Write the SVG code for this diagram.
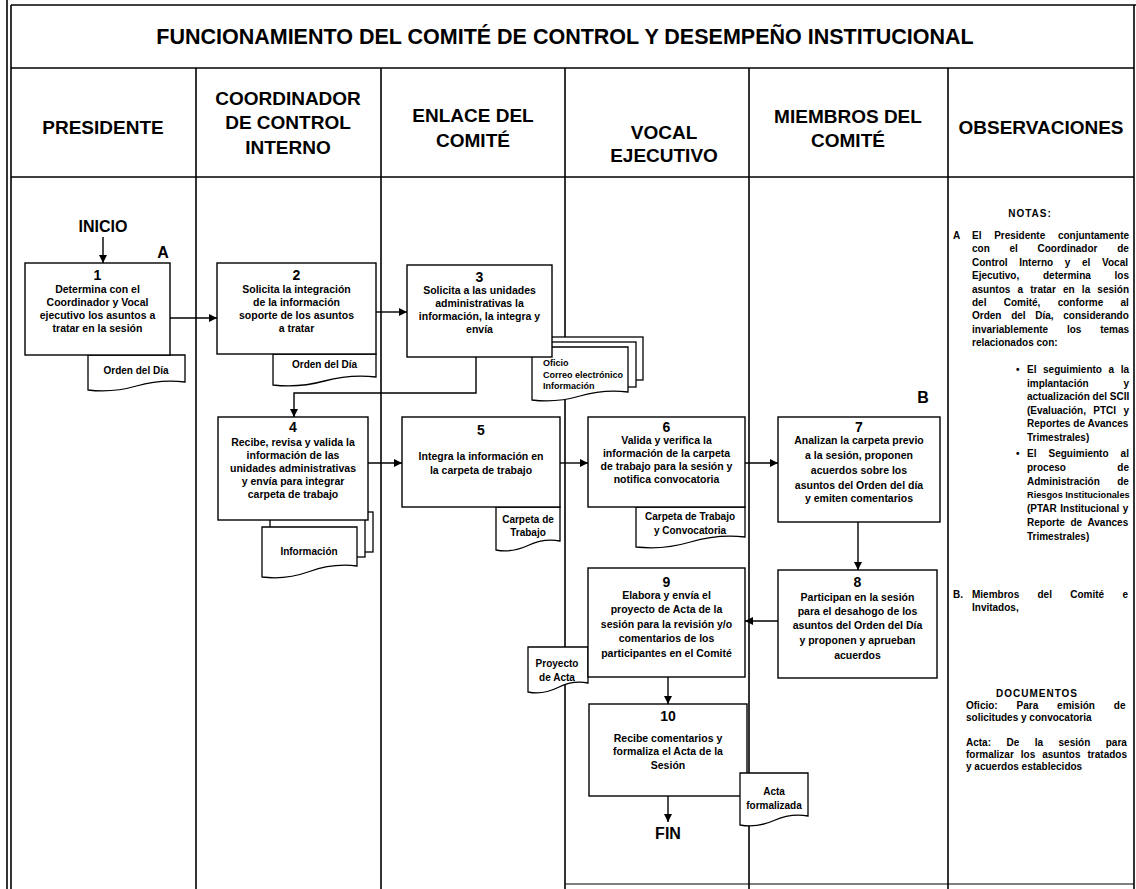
<svg xmlns="http://www.w3.org/2000/svg" width="1136" height="889" viewBox="0 0 1136 889">
<defs>
<marker id="ah" viewBox="0 0 10 10" refX="10" refY="5" markerWidth="9" markerHeight="8" markerUnits="userSpaceOnUse" orient="auto"><path d="M0,0 L10,5 L0,10 z" fill="#000"/></marker>
<style>
.frame{stroke:#000;stroke-width:1.6;fill:none}
.box{fill:#fff;stroke:#000;stroke-width:1.4}
.doc{fill:#fff;stroke:#000;stroke-width:1.3}
.conn{stroke:#000;stroke-width:1.4;fill:none;marker-end:url(#ah)}
.t{font-family:"Liberation Sans",Arial,sans-serif;font-weight:bold;fill:#000}
.ttl{font-size:21.5px;text-anchor:middle}
.hd{font-size:19px;text-anchor:middle}
.bt{font-size:10.5px;text-anchor:middle}
.num{font-size:14px;text-anchor:middle}
.big{font-size:16px;text-anchor:middle}
.dt{font-size:10px;text-anchor:middle}
.st{font-size:9px}
.nt{font-size:10px}
</style>
</defs>
<rect width="1136" height="889" fill="#fff"/>
<g id="frame">
<line class="frame" x1="7" y1="0" x2="7" y2="889"/>
<line class="frame" x1="11" y1="5" x2="11" y2="889"/>
<line class="frame" x1="11" y1="5" x2="1136" y2="5"/>
<line class="frame" x1="1134" y1="5" x2="1134" y2="889"/>
<line class="frame" x1="11" y1="68" x2="1134" y2="68"/>
<line class="frame" x1="11" y1="177" x2="1134" y2="177"/>
<line class="frame" x1="196" y1="68" x2="196" y2="889"/>
<line class="frame" x1="381" y1="68" x2="381" y2="889"/>
<line class="frame" x1="565" y1="68" x2="565" y2="889"/>
<line class="frame" x1="749" y1="68" x2="749" y2="889"/>
<line class="frame" x1="948" y1="68" x2="948" y2="889"/>
<line x1="565" y1="884" x2="1134" y2="884" stroke="#000" stroke-width="1"/>
<text class="t ttl" x="565" y="44">FUNCIONAMIENTO DEL COMITÉ DE CONTROL Y DESEMPEÑO INSTITUCIONAL</text>
<text class="t hd" x="103" y="134">PRESIDENTE</text>
<text class="t hd" x="288" y="105">COORDINADOR</text>
<text class="t hd" x="288" y="129">DE CONTROL</text>
<text class="t hd" x="288" y="154">INTERNO</text>
<text class="t hd" x="473" y="122">ENLACE DEL</text>
<text class="t hd" x="473" y="147">COMITÉ</text>
<text class="t hd" x="664" y="139">VOCAL</text>
<text class="t hd" x="664" y="162">EJECUTIVO</text>
<text class="t hd" x="848" y="123">MIEMBROS DEL</text>
<text class="t hd" x="848" y="147">COMITÉ</text>
<text class="t hd" x="1041" y="134">OBSERVACIONES</text>
</g>
<g id="inicio"><text class="t big" x="103" y="232">INICIO</text><text class="t big" x="163" y="258">A</text></g>
<g id="n1">
<path class="doc" d="M88,355 H185 V382 Q160.75,379 136.5,386 T88,390 Z"/>
<text class="t dt" x="136" y="374">Orden del Día</text>
<rect class="box" x="25" y="263" width="145" height="92"/>
<text class="t num" x="97.5" y="280">1</text>
<text class="t bt" x="97.5" y="293">Determina con el</text>
<text class="t bt" x="97.5" y="306">Coordinador y Vocal</text>
<text class="t bt" x="97.5" y="319">ejecutivo los asuntos a</text>
<text class="t bt" x="97.5" y="332">tratar en la sesión</text>
</g>
<g id="n2">
<path class="doc" d="M273,354 H376 V377 Q350.25,374 324.5,381 T273,385 Z"/>
<text class="t dt" x="324.5" y="368">Orden del Día</text>
<rect class="box" x="217" y="263" width="159" height="91"/>
<text class="t num" x="296.5" y="280">2</text>
<text class="t bt" x="296.5" y="293">Solicita la integración</text>
<text class="t bt" x="296.5" y="306">de la información</text>
<text class="t bt" x="296.5" y="319">soporte de los asuntos</text>
<text class="t bt" x="296.5" y="332">a tratar</text>
</g>
<g id="n3">
<rect class="doc" x="548" y="337" width="95" height="43"/>
<rect class="doc" x="540" y="342" width="96" height="45"/>
<path class="doc" d="M532,347 H628 V392 Q604,389 580,396 T532,400 Z"/>
<text class="t st" x="543" y="366">Oficio</text>
<text class="t st" x="543" y="378">Correo electrónico</text>
<text class="t st" x="543" y="389">Información</text>
<rect class="box" x="407" y="265" width="145" height="92"/>
<text class="t num" x="479.5" y="282">3</text>
<text class="t bt" x="479.5" y="294">Solicita a las unidades</text>
<text class="t bt" x="479.5" y="307">administrativas la</text>
<text class="t bt" x="479.5" y="320">información, la integra y</text>
<text class="t bt" x="479.5" y="333">envía</text>
</g>
<g id="n4">
<rect class="doc" x="278" y="512" width="95" height="40"/>
<rect class="doc" x="270" y="518" width="95" height="39"/>
<path class="doc" d="M262,527 H357 V566 Q333.25,563 309.5,571.5 T262,577 Z"/>
<text class="t dt" x="309" y="555">Información</text>
<rect class="box" x="218" y="417" width="150" height="103"/>
<text class="t num" x="293" y="432">4</text>
<text class="t bt" x="293" y="446">Recibe, revisa y valida la</text>
<text class="t bt" x="293" y="459">información de las</text>
<text class="t bt" x="293" y="472">unidades administrativas</text>
<text class="t bt" x="293" y="485">y envía para integrar</text>
<text class="t bt" x="293" y="498">carpeta de trabajo</text>
</g>
<g id="n5">
<path class="doc" d="M496,507 H560 V541 Q544,538 528,545.5 T496,550 Z"/>
<text class="t dt" x="528" y="523">Carpeta de</text>
<text class="t dt" x="528" y="536">Trabajo</text>
<rect class="box" x="402" y="417" width="158" height="90"/>
<text class="t num" x="481" y="435">5</text>
<text class="t bt" x="481" y="460">Integra la información en</text>
<text class="t bt" x="481" y="474">la carpeta de trabajo</text>
</g>
<g id="n6">
<path class="doc" d="M636,507 H745 V537 Q717.75,534 690.5,542 T636,547 Z"/>
<text class="t dt" x="690" y="520">Carpeta de Trabajo</text>
<text class="t dt" x="690" y="534">y Convocatoria</text>
<rect class="box" x="588" y="417" width="157" height="90"/>
<text class="t num" x="666.5" y="432">6</text>
<text class="t bt" x="666.5" y="444">Valida y verifica la</text>
<text class="t bt" x="666.5" y="457">información de la carpeta</text>
<text class="t bt" x="666.5" y="470">de trabajo para la sesión y</text>
<text class="t bt" x="666.5" y="483">notifica convocatoria</text>
</g>
<g id="n7">
<text class="t big" x="923" y="403">B</text>
<rect class="box" x="778" y="417" width="162" height="105"/>
<text class="t num" x="859" y="432">7</text>
<text class="t bt" x="859" y="444">Analizan la carpeta previo</text>
<text class="t bt" x="859" y="459">a la sesión, proponen</text>
<text class="t bt" x="859" y="474">acuerdos sobre los</text>
<text class="t bt" x="859" y="489">asuntos del Orden del día</text>
<text class="t bt" x="859" y="502">y emiten comentarios</text>
</g>
<g id="n8">
<rect class="box" x="778" y="570" width="159" height="108"/>
<text class="t num" x="857.5" y="587">8</text>
<text class="t bt" x="857.5" y="601">Participan en la sesión</text>
<text class="t bt" x="857.5" y="615">para el desahogo de los</text>
<text class="t bt" x="857.5" y="629">asuntos del Orden del Día</text>
<text class="t bt" x="857.5" y="644">y proponen y aprueban</text>
<text class="t bt" x="857.5" y="659">acuerdos</text>
</g>
<g id="n9">
<path class="doc" d="M528,647 H588 V683 Q573,680 558,687.5 T528,692 Z"/>
<text class="t dt" x="557" y="667">Proyecto</text>
<text class="t dt" x="557" y="681">de Acta</text>
<rect class="box" x="588" y="568" width="157" height="109"/>
<text class="t num" x="666.5" y="587">9</text>
<text class="t bt" x="666.5" y="599">Elabora y envía el</text>
<text class="t bt" x="666.5" y="613">proyecto de Acta de la</text>
<text class="t bt" x="666.5" y="628">sesión para la revisión y/o</text>
<text class="t bt" x="666.5" y="642">comentarios de los</text>
<text class="t bt" x="666.5" y="657">participantes en el Comité</text>
</g>
<g id="n10">
<rect class="box" x="589" y="704" width="158" height="92"/>
<text class="t num" x="668" y="721">10</text>
<text class="t bt" x="668" y="742">Recibe comentarios y</text>
<text class="t bt" x="668" y="755">formaliza el Acta de la</text>
<text class="t bt" x="668" y="769">Sesión</text>
<path class="doc" d="M740,773 H808 V816 Q791,813 774,820.5 T740,825 Z"/>
<text class="t dt" x="774" y="795">Acta</text>
<text class="t dt" x="774" y="809">formalizada</text>
</g>
<g id="fin"><text class="t big" x="668" y="839">FIN</text></g>
<g id="notes">
<text class="t nt" x="1030" y="217" text-anchor="middle" letter-spacing="1">NOTAS:</text>
<text class="t nt" x="953" y="239">A</text>
<text class="t nt" x="972" y="239" word-spacing="9.9">El Presidente conjuntamente</text>
<text class="t nt" x="972" y="252.4" word-spacing="16.9">con el Coordinador de</text>
<text class="t nt" x="972" y="265.8" word-spacing="8.9">Control Interno y el Vocal</text>
<text class="t nt" x="972" y="279.2" word-spacing="21">Ejecutivo, determina los</text>
<text class="t nt" x="972" y="292.6" word-spacing="4.4">asuntos a tratar en la sesión</text>
<text class="t nt" x="972" y="306" word-spacing="14.5">del Comité, conforme al</text>
<text class="t nt" x="972" y="319.4" word-spacing="6.9">Orden del Día, considerando</text>
<text class="t nt" x="972" y="332.8" word-spacing="16">invariablemente los temas</text>
<text class="t nt" x="972" y="346.2">relacionados con:</text>
<text class="t nt" x="1016" y="373">•</text>
<text class="t nt" x="1027" y="373" word-spacing="3.8">El seguimiento a la</text>
<text class="t nt" x="1027" y="386.5" word-spacing="32">implantación y</text>
<text class="t nt" x="1027" y="400">actualización del SCII</text>
<text class="t nt" x="1027" y="413.5" word-spacing="4.6">(Evaluación, PTCI y</text>
<text class="t nt" x="1027" y="427" word-spacing="0.2">Reportes de Avances</text>
<text class="t nt" x="1027" y="440.5">Trimestrales)</text>
<text class="t nt" x="1016" y="457">•</text>
<text class="t nt" x="1027" y="457" word-spacing="9.3">El Seguimiento al</text>
<text class="t nt" x="1027" y="470.8" word-spacing="48.6">proceso de</text>
<text class="t nt" x="1027" y="484.6" word-spacing="14.7">Administración de</text>
<text class="t" x="1027" y="498.4" font-size="9.2">Riesgos Institucionales</text>
<text class="t nt" x="1027" y="512.2" word-spacing="0.7">(PTAR Institucional y</text>
<text class="t nt" x="1027" y="526" word-spacing="2.9">Reporte de Avances</text>
<text class="t nt" x="1027" y="539.8">Trimestrales)</text>
<text class="t nt" x="953" y="598">B.</text>
<text class="t nt" x="972" y="598" word-spacing="15.5">Miembros del Comité e</text>
<text class="t nt" x="972" y="611">Invitados,</text>
<text class="t nt" x="1037" y="697" text-anchor="middle" letter-spacing="1">DOCUMENTOS</text>
<text class="t nt" x="966" y="709" word-spacing="16.1">Oficio: Para emisión de</text>
<text class="t nt" x="966" y="721">solicitudes y convocatoria</text>
<text class="t nt" x="966" y="746" word-spacing="12.7">Acta: De la sesión para</text>
<text class="t nt" x="966" y="758" word-spacing="4.2">formalizar los asuntos tratados</text>
<text class="t nt" x="966" y="770">y acuerdos establecidos</text>
</g>
<g id="connectors">
<path class="conn" d="M103,237 V263"/>
<path class="conn" d="M170,318 H217"/>
<path class="conn" d="M376,312 H407"/>
<path class="conn" d="M476,357 V393 H294 V417"/>
<path class="conn" d="M368,463 H402"/>
<path class="conn" d="M560,463 H588"/>
<path class="conn" d="M745,463 H778"/>
<path class="conn" d="M858,522 V570"/>
<path class="conn" d="M778,621 H745"/>
<path class="conn" d="M668,677 V704"/>
<path class="conn" d="M668,796 V822"/>
</g>
</svg>
